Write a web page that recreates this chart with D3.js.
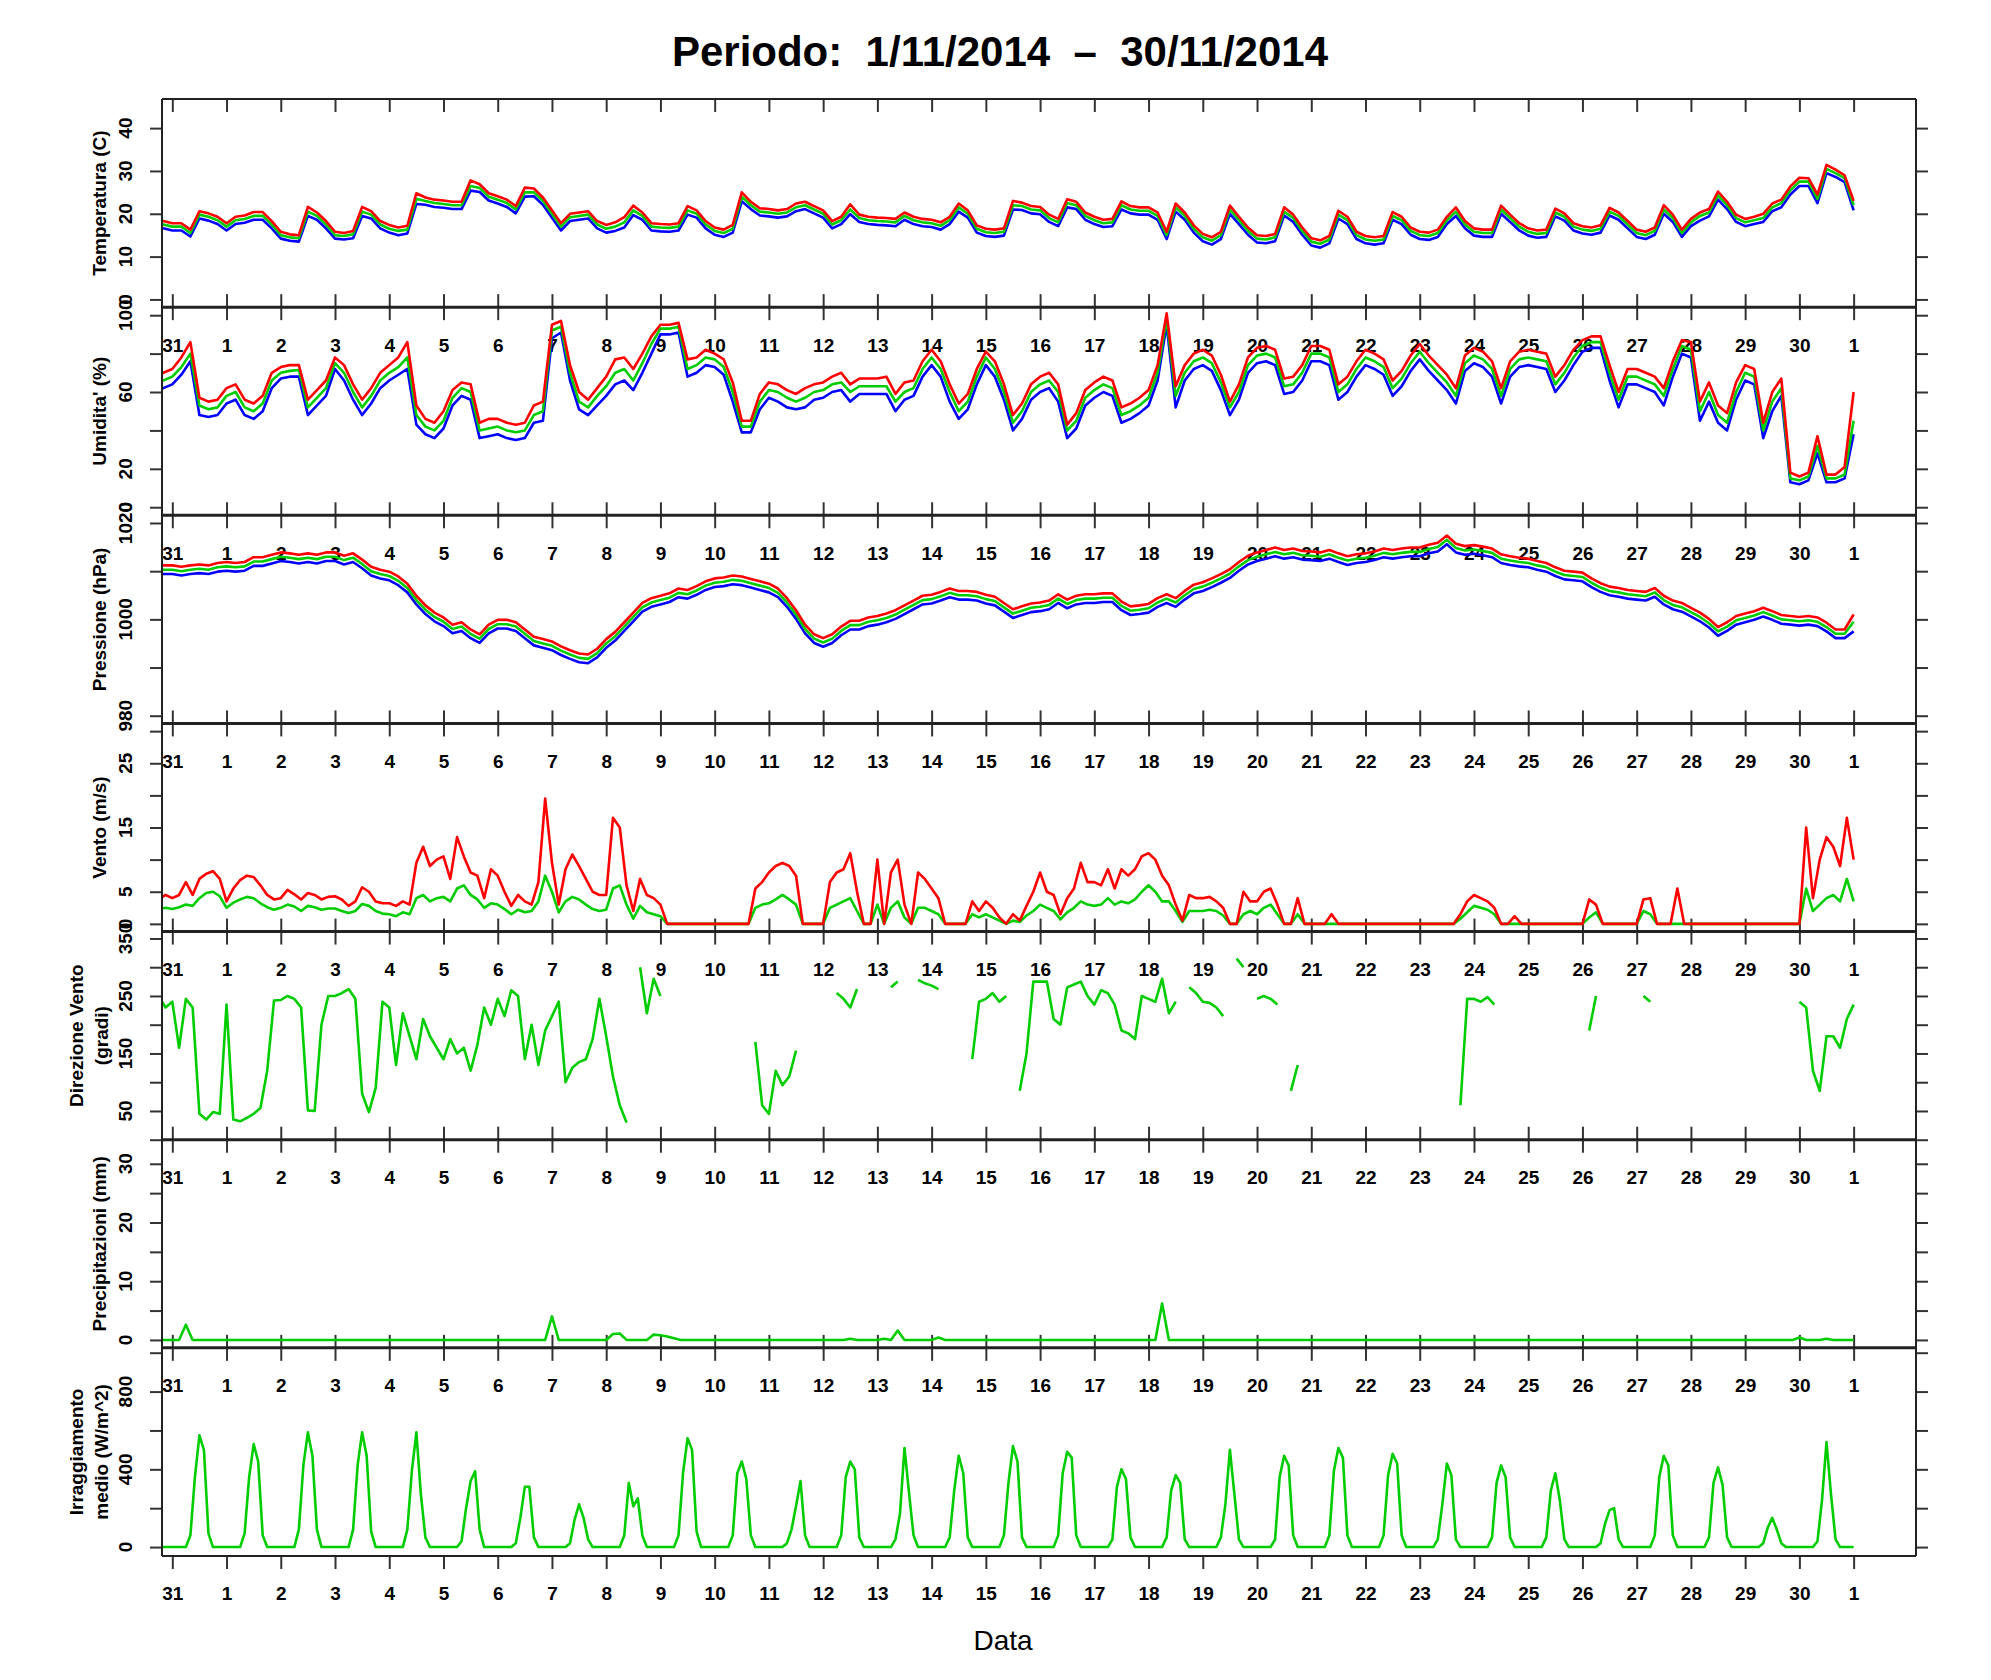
<!DOCTYPE html>
<html>
<head>
<meta charset="utf-8">
<script src="https://cdnjs.cloudflare.com/ajax/libs/d3/7.8.5/d3.min.js"></script>
<style>
  body { margin: 0; background: #fff; }
  text { font-family: "Liberation Sans", Arial, Helvetica, sans-serif; }
</style>
</head>
<body>
<svg id="chart" width="1991" height="1680"></svg>
<script>
(function() {

  // ---- data ----
  // temperature, humidity, pressure: every 4 h from 30/10 16:00 to 1/12 00:00
  var tempMax = [18.8,18.3,
    17.8,17.8,16.3,20.6,20.1,19.3, 17.8,19.3,19.6,20.4,20.4,18.3, 15.8,15.2,15,21.6,20.3,18.3,
    15.8,15.5,16,21.6,20.6,18.3, 17.4,16.8,17.2,24.8,23.8,23.3, 23.1,22.8,22.8,27.8,26.9,24.8,
    24.1,23.3,21.8,26.1,25.9,23.8, 20.8,17.8,20,20.3,20.6,18.3, 17.4,18,19.2,21.9,20.3,17.8,
    17.6,17.5,17.8,21.8,20.8,18.3, 16.8,16.3,17.4,25,22.8,21.3, 21.1,20.8,21.1,22.4,22.8,21.8,
    20.8,18.3,19.3,22.2,19.8,19.3, 19.1,19,18.8,20.3,19.3,18.8, 18.6,18,19.3,22.4,20.8,17.3,
    16.5,16.3,16.6,23,22.6,21.8, 21.6,19.8,18.8,23.4,22.8,20.3, 19.3,18.6,18.8,22.9,21.8,21.5,
    21.5,20.3,15.8,22.4,20.3,17.3, 15.3,14.5,15.8,21.9,19.3,16.8, 15,14.8,15.3,21.5,19.8,16.8,
    14.3,13.8,14.8,20.7,19.3,15.8, 14.8,14.5,14.8,20.4,19.3,16.8, 15.8,15.6,16.3,19.3,21.5,18.3,
    16.6,16.3,16.3,21.9,19.8,17.8, 16.6,16.1,16.3,21.2,20.1,17.8, 17.1,16.8,17.3,21.4,20.3,18.3,
    16.3,15.8,16.8,22,19.8,16.3, 18.8,20.3,21.1,25.2,22.8,19.8, 18.8,19.3,20,22.4,23.3,26.4,
    28.4,28.3,24.5,31.4,30.3,29,
    23];
  var tempAvg = [18,17.5,
    17,17,15.5,19.8,19.3,18.5, 17,18.5,18.8,19.5,19.5,17.5, 15,14.5,14.3,20.5,19.5,17.5,
    15,14.8,15.2,20.5,19.8,17.5, 16.5,16,16.3,23.5,23,22.5, 22.3,22,22,26.5,26,24,
    23.3,22.5,21,25,25,23, 20,17,19.2,19.5,19.8,17.5, 16.5,17,18,20.8,19.5,17,
    16.8,16.7,17,20.8,20,17.5, 16,15.5,16.5,24,22,20.5, 20.3,20,20.3,21.5,22,21,
    20,17.5,18.5,21,19,18.5, 18.3,18.2,18,19.5,18.5,18, 17.8,17.2,18.5,21.5,20,16.5,
    15.7,15.5,15.8,22,21.8,21, 20.8,19,18,22.5,22,19.5, 18.5,17.8,18,22,21,20.7,
    20.7,19.5,15,21.5,19.5,16.5, 14.5,13.7,15,21,18.5,16, 14.2,14,14.5,20.5,19,16,
    13.5,13,14,19.8,18.5,15, 14,13.7,14,19.5,18.5,16, 15,14.8,15.5,18.5,20.5,17.5,
    15.8,15.5,15.5,21,19,17, 15.8,15.3,15.5,20.3,19.3,17, 16.3,16,16.5,20.5,19.5,17.5,
    15.5,15,16,21,19,15.5, 18,19.5,20.3,24.3,22,19, 18,18.5,19,21.5,22.5,25.5,
    27.5,27.5,23.5,30.5,29.5,28.3,
    22];
  var tempMin = [17.1,16.6,
    16.1,16.1,14.7,18.9,18.4,17.6, 16.1,17.6,17.9,18.6,18.6,16.6, 14.2,13.7,13.5,19.5,18.6,16.6,
    14.2,14,14.3,19.5,18.9,16.6, 15.6,15,15.4,22.3,22.1,21.6, 21.4,21.1,21.1,25.4,25.1,23.1,
    22.4,21.6,20.1,24,24.1,22.1, 19.1,16.1,18.3,18.6,18.9,16.6, 15.6,16,16.8,19.7,18.6,16.1,
    15.9,15.8,16.1,19.8,19.1,16.6, 15.1,14.6,15.6,22.9,21.1,19.6, 19.4,19.1,19.4,20.6,21.1,20.1,
    19.1,16.6,17.6,19.9,18.1,17.6, 17.4,17.3,17.1,18.6,17.6,17.1, 16.9,16.3,17.6,20.5,19.1,15.6,
    14.8,14.6,14.9,21,20.9,20.1, 19.9,18.1,17.1,21.5,21.1,18.6, 17.6,16.9,17.1,21,20.1,19.8,
    19.8,18.6,14.1,20.5,18.6,15.6, 13.6,12.8,14.1,20,17.6,15.1, 13.3,13.1,13.6,19.6,18.1,15.1,
    12.6,12.1,13.1,18.9,17.6,14.1, 13.1,12.8,13.1,18.6,17.6,15.1, 14.1,13.9,14.6,17.6,19.5,16.6,
    14.9,14.6,14.6,20,18.1,16.1, 14.9,14.4,14.6,19.4,18.4,16.1, 15.4,15.1,15.6,19.6,18.6,16.6,
    14.6,14.1,15.1,20,18.1,14.6, 17.1,18.4,19.4,23.3,21.1,18.1, 17.1,17.6,18.1,20.6,21.5,24.5,
    26.5,26.5,22.5,29.5,28.6,27.4,
    20.8];

  var humMax = [66,70,
    72,78,86,57,55,56, 62,64,56,54,58,70, 73,74,74,56,61,66, 78,74,64,56,62,70,
    74,78,86,53,46,44, 50,61,65,64,44,46, 46,44,43,44,53,55, 95,97,74,60,56,62,
    68,77,78,72,80,89, 95,95,96,77,78,82, 80,77,65,45,45,59, 65,64,61,59,62,64,
    65,68,70,64,67,67, 67,68,59,65,66,76, 82,76,64,54,59,72, 81,76,64,48,54,64,
    68,70,64,43,49,61, 65,68,66,52,54,57, 61,74,101,63,74,80, 82,79,69,55,64,78,
    83,84,82,67,68,74, 84,84,82,64,68,76, 82,80,77,66,71,79, 85,79,74,69,62,79,
    83,81,76,62,76,81, 82,81,80,68,74,82, 87,89,89,74,60,72, 72,70,68,62,76,87,
    86,55,65,53,49,65, 74,72,44,60,67,18, 16,18,37,17,17,21,
    60];
  var humAvg = [63,66,
    68,73,80,53,51,52, 58,60,52,50,54,66, 70,71,71.5,52,57,62, 75,70,60,52,58,66,
    70,73,78,48,42,40, 45,57,62,60,40,41, 42,40,39,40,48,50, 92,94,70,55,52,58,
    63,70,72,66,75,85, 93,93,94,72,74,78, 77,73,60,42,42,55, 61,60,57,55,57,60,
    61,64,65,60,63,63, 63,63,55,60,62,72, 78,72,60,50,55,68, 78,72,60,44,50,60,
    64,66,60,40,45,57, 61,64,62,48,50,53, 57,70,98,58,70,76, 78,75,65,52,60,74,
    79,80,78,63,64,70, 80,80,78,60,64,72, 78,76,73,62,67,75, 81,75,70,65,58,75,
    79,77,72,58,72,77, 78,77,76,64,70,78, 84,86,86,70,56,68, 68,66,64,58,72,84,
    82,50,60,48,44,60, 70,68,40,55,62,15, 14,16,32,15,15,17,
    45];
  var humMin = [59,62,
    64,69,76,48,47,48, 54,56,48,46,50,62, 67,68,68,48,53,58, 72,66,56,48,54,62,
    66,69,72,43,38,36, 41,53,58,56,36,37, 38,36,35,36,44,45, 88,91,66,51,48,53,
    58,64,66,61,70,80, 90,90,91,68,70,74, 73,69,55,39,39,51, 57,55,52,51,52,56,
    57,60,61,55,59,59, 59,59,50,56,58,68, 74,68,55,46,51,64, 74,68,56,40,46,56,
    60,62,55,36,41,53, 57,60,58,44,46,49, 53,66,95,52,66,72, 74,71,61,48,56,70,
    75,76,74,59,60,66, 76,76,74,56,60,68, 74,72,69,58,63,71, 77,71,66,61,54,71,
    75,73,68,54,68,73, 74,73,72,60,66,74, 81,83,83,66,52,64, 64,62,60,53,68,80,
    78,45,55,44,40,56, 66,64,36,50,58,13, 12,14,28,13,13,15,
    38];

  var presMax = [1011.2,1011.2,
    1011.2,1010.9,1011.2,1011.4,1011.2,1011.7, 1011.9,1011.7,1011.9,1012.9,1012.9,1013.4,
    1013.9,1013.7,1013.4,1013.7,1013.4,1013.9, 1013.9,1013.2,1013.7,1012.4,1010.9,1010.3,
    1009.9,1008.9,1007.4,1004.9,1002.9,1001.4, 1000.4,998.9,999.4,997.9,996.9,998.9,
    999.9,999.9,999.4,997.9,996.4,995.9, 995.4,994.4,993.6,992.9,992.7,993.9,
    995.9,997.4,999.4,1001.4,1003.4,1004.4, 1004.9,1005.4,1006.4,1006.1,1006.9,1007.9,
    1008.5,1008.7,1009.1,1008.9,1008.4,1007.9, 1007.4,1006.4,1004.4,1001.9,998.9,996.9,
    996.1,996.9,998.5,999.7,999.7,1000.4, 1000.7,1001.2,1001.9,1002.9,1003.9,1004.9,
    1005.1,1005.7,1006.4,1005.9,1005.9,1005.7, 1005.1,1004.7,1003.4,1002.1,1002.7,1003.3,
    1003.5,1003.9,1005.2,1004.1,1004.9,1005.2, 1005.2,1005.4,1005.4,1003.7,1002.7,1002.9,
    1003.2,1004.4,1005.2,1004.4,1005.9,1007.2, 1007.7,1008.5,1009.4,1010.4,1011.9,1013.2,
    1013.9,1014.4,1014.9,1014.4,1014.7,1014.2, 1014.1,1013.9,1014.4,1013.7,1013.1,1013.5,
    1013.7,1014.1,1014.7,1014.4,1014.7,1014.9, 1014.9,1015.5,1015.9,1017.4,1015.7,1015.2,
    1015.4,1015.1,1014.7,1013.5,1013.1,1012.8, 1012.6,1012.1,1011.7,1010.8,1010.1,1009.9,
    1009.7,1008.5,1007.5,1006.8,1006.5,1006.1, 1005.9,1005.7,1006.5,1004.9,1003.9,1003.4,
    1002.4,1001.4,1000.1,998.4,999.4,1000.7, 1001.2,1001.7,1002.4,1001.7,1000.9,1000.7,
    1000.5,1000.7,1000.4,999.3,997.9,997.9,
    1001];
  var presAvg = [1010.3,1010.3,
    1010.3,1010,1010.3,1010.5,1010.3,1010.8, 1011,1010.8,1011,1012,1012,1012.5,
    1013,1012.8,1012.5,1012.8,1012.5,1013, 1013,1012.3,1012.8,1011.5,1010,1009.4,
    1009,1008,1006.5,1004,1002,1000.5, 999.5,998,998.5,997,996,998,
    999,999,998.5,997,995.5,995, 994.5,993.5,992.7,992,991.8,993,
    995,996.5,998.5,1000.5,1002.5,1003.5, 1004,1004.5,1005.5,1005.2,1006,1007,
    1007.6,1007.8,1008.2,1008,1007.5,1007, 1006.5,1005.5,1003.5,1001,998,996,
    995.2,996,997.6,998.8,998.8,999.5, 999.8,1000.3,1001,1002,1003,1004,
    1004.2,1004.8,1005.5,1005,1005,1004.8, 1004.2,1003.8,1002.5,1001.2,1001.8,1002.4,
    1002.6,1003,1004.3,1003.2,1004,1004.3, 1004.3,1004.5,1004.5,1002.8,1001.8,1002,
    1002.3,1003.5,1004.3,1003.5,1005,1006.3, 1006.8,1007.6,1008.5,1009.5,1011,1012.3,
    1013,1013.5,1014,1013.5,1013.8,1013.3, 1013.2,1013,1013.5,1012.8,1012.2,1012.6,
    1012.8,1013.2,1013.8,1013.5,1013.8,1014, 1014,1014.6,1015,1016.5,1014.8,1014.3,
    1014.5,1014.2,1013.8,1012.6,1012.2,1011.9, 1011.7,1011.2,1010.8,1009.9,1009.2,1009,
    1008.8,1007.6,1006.6,1005.9,1005.6,1005.2, 1005,1004.8,1005.6,1004,1003,1002.5,
    1001.5,1000.5,999.2,997.5,998.5,999.8, 1000.3,1000.8,1001.5,1000.8,1000,999.8,
    999.6,999.8,999.5,998.4,997,997,
    999.5];
  var presMin = [1009.4,1009.4,
    1009.4,1009.1,1009.4,1009.6,1009.4,1009.9, 1010.1,1009.9,1010.1,1011.1,1011.1,1011.6,
    1012.1,1011.9,1011.6,1011.9,1011.6,1012.1, 1012.1,1011.4,1011.9,1010.6,1009.1,1008.5,
    1008.1,1007.1,1005.6,1003.1,1001.1,999.6, 998.6,997.1,997.6,996.1,995.1,997.1,
    998.1,998.1,997.6,996.1,994.6,994.1, 993.6,992.6,991.8,991.1,990.9,992.1,
    994.1,995.6,997.6,999.6,1001.6,1002.6, 1003.1,1003.6,1004.6,1004.3,1005.1,1006.1,
    1006.7,1006.9,1007.3,1007.1,1006.6,1006.1, 1005.6,1004.6,1002.6,1000.1,997.1,995.1,
    994.3,995.1,996.7,997.9,997.9,998.6, 998.9,999.4,1000.1,1001.1,1002.1,1003.1,
    1003.3,1003.9,1004.6,1004.1,1004.1,1003.9, 1003.3,1002.9,1001.6,1000.3,1000.9,1001.5,
    1001.7,1002.1,1003.4,1002.3,1003.1,1003.4, 1003.4,1003.6,1003.6,1001.9,1000.9,1001.1,
    1001.4,1002.6,1003.4,1002.6,1004.1,1005.4, 1005.9,1006.7,1007.6,1008.6,1010.1,1011.4,
    1012.1,1012.6,1013.1,1012.6,1012.9,1012.4, 1012.3,1012.1,1012.6,1011.9,1011.3,1011.7,
    1011.9,1012.3,1012.9,1012.6,1012.9,1013.1, 1013.1,1013.7,1014.1,1015.6,1013.9,1013.4,
    1013.6,1013.3,1012.9,1011.7,1011.3,1011, 1010.8,1010.3,1009.9,1009,1008.3,1008.1,
    1007.9,1006.7,1005.7,1005,1004.7,1004.3, 1004.1,1003.9,1004.7,1003.1,1002.1,1001.6,
    1000.6,999.6,998.3,996.6,997.6,998.9, 999.4,999.9,1000.6,999.9,999.1,998.9,
    998.7,998.9,998.6,997.5,996.1,996.1,
    997.5];

  // wind, direction, rain: every 3 h from 30/10 18:00 to 1/12 00:00
  var windMax = [3.8,4.5,
    4,4.5,6.5,4.5,7,7.8,8.2,7, 3.5,5.5,6.8,7.5,7.3,6,4.5,3.8, 4,5.3,4.6,3.8,4.8,4.5,3.8,4.2,
    4.3,3.8,2.8,3.5,5.7,5,3.5,3.2, 3.2,2.8,3.5,3,9.5,12,9,10, 10.5,7,13.5,10.5,8,7.5,4,8.5,
    7.5,5,2.8,4.5,3.5,3,6.5,19.5, 9.5,3,8.5,10.8,9,7,5,4.5, 4.5,16.5,15,6,2,7,4.5,4,
    3,0,0,0,0,0,0,0, 0,0,0,0,0,0,5.5,6.5, 8,9,9.5,9,7.5,0,0,0,
    0,6.5,8,8.5,11,5,0,0, 10,0,8,10,3,0,8,7, 5.5,4,0,0,0,0,3.5,2,
    3.5,2.5,1,0,1.5,0.5,2.8,5, 8,5,4.5,1.5,4,5.5,9.5,6.5, 6.5,6,8.5,5.5,8.5,7.5,8.5,10.5,
    11,10,7.5,6,3,0.5,4.5,4, 4,4.2,3.5,2.5,0,0,5,3.5, 3.5,5,5.5,3,0,0,4,0,
    0,0,0,1.5,0,0,0,0, 0,0,0,0,0,0,0,0, 0,0,0,0,0,0,1.5,3.5,
    4.5,4,3.5,2.5,0,0,1.2,0, 0,0,0,0,0,0,0,0, 0,3.8,3,0,0,0,0,0,
    0,3.8,4,0,0,0,5.5,0, 0,0,0,0,0,0,0,0, 0,0,0,0,0,0,0,0,
    0,15,4,10,13.5,12,9,16.5,
    10];
  var windAvg = [2.3,2.5,
    2.3,2.6,3,2.8,4,4.8,5,4.3, 2.5,3.3,3.8,4.2,4,3.2,2.6,2.2, 2.5,3,2.7,2,2.8,2.6,2.2,2.4,
    2.4,2,1.7,2,3.1,2.8,2,1.6, 1.5,1.2,1.8,1.5,4,4.5,3.5,4, 4.2,3.5,5.5,6,4.5,3.8,2.5,3.2,
    3,2.3,1.5,2.2,1.8,2,3.5,7.5, 5,1.8,3.5,4.2,3.8,3,2.3,2, 2.2,5.5,6,3,0.8,2.8,1.8,1.5,
    1.2,0,0,0,0,0,0,0, 0,0,0,0,0,0,2.5,3, 3.2,3.8,4.5,3.8,3,0,0,0,
    0,2.5,3,3.5,4,2,0,0, 3,0,2.5,3.5,1,0,2.5,2.5, 2,1.5,0,0,0,0,1.5,1,
    1.5,1,0.5,0,0.5,0.3,1.3,2, 3,2.5,2,0.7,1.8,2.5,3.5,3, 2.8,3,4,3,3.5,3.2,3.8,5,
    6,5,3.5,3.5,2,0.3,2,2, 2,2.2,2,1.3,0,0,1.5,2, 1.5,2.5,3,1.5,0,0,1.5,0,
    0,0,0,0,0,0,0,0, 0,0,0,0,0,0,0,0, 0,0,0,0,0,0,0.8,1.8,
    2.8,2.5,2.2,1.5,0,0,0,0, 0,0,0,0,0,0,0,0, 0,1,1.8,0,0,0,0,0,
    0,2,1.5,0,0,0,0,0, 0,0,0,0,0,0,0,0, 0,0,0,0,0,0,0,0,
    0,5.5,2,3,4,4.5,3.5,7,
    3.5];
  var windDir = [250,230,
    240,160,245,230,45,35,48,45, 235,35,32,38,45,55,120,242, 243,250,245,230,51,50,200,250,
    250,255,262,245,80,48,90,240, 230,130,220,180,140,210,180,160, 140,175,150,160,120,165,230,200,
    245,215,260,250,140,200,130,190, 215,240,100,125,135,140,175,245, 180,110,60,30,null,300,220,280,
    250,null,null,null,null,null,null,null, null,null,null,null,null,null,170,60,
    45,120,95,110,155,null,null,null, null,null,255,245,230,262,null,null,
    null,null,265,275,null,null,278,272, 268,262,null,null,null,null,140,240,
    245,255,240,250,null,85,150,275, 275,275,210,200,265,270,275,250,
    235,260,255,235,190,185,175,250, 245,240,280,220,240,null,265,255,
    240,238,230,215,null,315,300,null, 245,250,245,235,null,85,130,null,
    null,null,null,null,null,null,null,null, null,null,null,null,null,null,null,null,
    null,null,null,null,null,null,60,245, 245,240,248,235,null,null,null,null,
    null,null,null,null,null,null,null,null, null,190,250,null,null,null,null,null,
    null,250,240,null,null,null,null,null, null,null,null,null,null,null,null,null,
    null,null,null,null,null,null,null,null,
    240,230,120,85,180,180,160,210,
    235];
  var rain = [0,0,
    0,0,2.6,0,0,0,0,0, 0,0,0,0,0,0,0,0, 0,0,0,0,0,0,0,0, 0,0,0,0,0,0,0,0,
    0,0,0,0,0,0,0,0, 0,0,0,0,0,0,0,0, 0,0,0,0,0,0,0,0, 4,0,0,0,0,0,0,0,
    0,1,1.1,0,0,0,0,0.9, 0.8,0.6,0.3,0,0,0,0,0, 0,0,0,0,0,0,0,0, 0,0,0,0,0,0,0,0,
    0,0,0,0,0.2,0,0,0, 0,0.2,0,1.6,0,0,0,0, 0,0.4,0,0,0,0,0,0, 0,0,0,0,0,0,0,0,
    0,0,0,0,0,0,0,0, 0,0,0,0,0,0,0,0, 0,0,6.2,0,0,0,0,0, 0,0,0,0,0,0,0,0,
    0,0,0,0,0,0,0,0, 0,0,0,0,0,0,0,0, 0,0,0,0,0,0,0,0, 0,0,0,0,0,0,0,0,
    0,0,0,0,0,0,0,0, 0,0,0,0,0,0,0,0, 0,0,0,0,0,0,0,0, 0,0,0,0,0,0,0,0,
    0,0,0,0,0,0,0,0, 0,0,0,0,0,0,0,0,
    0.4,0,0,0,0.2,0,0,0,
    0];

  // mean irradiance: every 2 h from 30/10 18:00 to 1/12 00:00
  var irr = [0,0,0,
    0,0,0,0,60,360,575,500,70,0,0,0, 0,0,0,0,70,360,530,440,60,0,0,0,
    0,0,0,0,90,420,590,470,90,0,0,0, 0,0,0,0,90,420,590,470,80,0,0,0,
    0,0,0,0,90,390,590,270,50,0,0,0, 0,0,0,0,30,200,340,390,90,0,0,0,
    0,0,0,0,20,150,310,310,50,0,0,0, 0,0,0,0,20,140,220,150,40,0,0,0,
    0,0,0,0,60,330,210,250,60,0,0,0, 0,0,0,0,60,380,560,500,80,0,0,0,
    0,0,0,0,60,380,440,350,60,0,0,0, 0,0,0,0,20,90,210,340,60,0,0,0,
    0,0,0,0,60,360,440,400,50,0,0,0, 0,0,0,0,40,170,510,280,60,0,0,0,
    0,0,0,0,50,290,470,380,50,0,0,0, 0,0,0,0,60,330,520,440,50,0,0,0,
    0,0,0,0,60,380,490,460,60,0,0,0, 0,0,0,0,40,310,400,350,50,0,0,0,
    0,0,0,0,50,290,370,330,40,0,0,0, 0,0,0,0,50,220,500,270,40,0,0,0,
    0,0,0,0,40,360,470,420,60,0,0,0, 0,0,0,0,60,390,510,460,60,0,0,0,
    0,0,0,0,60,370,480,430,60,0,0,0, 0,0,0,0,40,220,430,370,40,0,0,0,
    0,0,0,0,50,330,420,360,50,0,0,0, 0,0,0,0,50,290,380,240,40,0,0,0,
    0,0,0,0,20,120,190,200,40,0,0,0, 0,0,0,0,60,360,470,420,60,0,0,0,
    0,0,0,0,50,330,410,320,50,0,0,0, 0,0,0,0,20,100,150,90,20,0,0,0,
    0,0,0,0,30,240,540,270,40,0,0,0,
    0];

  // y ticks and which of them carry a label
  var tempTicks = [0,10,20,30,40],            tempLabels = [0,10,20,30,40];
  var humTicks  = [0,20,40,60,80,100],        humLabels  = [0,20,60,100];
  var presTicks = [980,990,1000,1010,1020],   presLabels = [980,1000,1020];
  var windTicks = [0,5,10,15,20,25,30],       windLabels = [0,5,15,25];
  var dirTicks  = [0,50,100,150,200,250,300,350], dirLabels = [50,150,250,350];
  var rainTicks = [0,5,10,15,20,25,30],       rainLabels = [0,10,20,30];
  var irrTicks  = [0,200,400,600,800,1000],   irrLabels  = [0,400,800];

  // ---- layout ----
  var W = 1991, H = 1680;
  var left = 162, right = 1916, top0 = 99, bottom0 = 1556;
  var ph = (bottom0 - top0) / 7;
  var colors = {red: '#ff0000', green: '#00cd00', blue: '#0000ff'};
  var hour = 3600000;

  // sampling times of each series
  var grid = function(startHour, stepHours, n) {
    var t0 = Date.UTC(2014, 9, 30, startHour);
    return d3.range(n).map(function(i) { return new Date(t0 + i * stepHours * hour); });
  };

  var day0 = Date.UTC(2014, 9, 31);
  var x = d3.scaleUtc()
    .domain([new Date(day0 - 0.19 * 24 * hour), new Date(day0 + 32.15 * 24 * hour)])
    .range([left, right]);
  var days = d3.utcDay.range(new Date(day0), new Date(Date.UTC(2014, 11, 2)));

  var panels = [
    {title: ['Temperatura (C)'], domain: [-1.8, 46.8], ticks: tempTicks, labels: tempLabels, step: [16, 4],
     series: [[tempMin, 'blue'], [tempAvg, 'green'], [tempMax, 'red']]},
    {title: ["Umidita' (%)"], domain: [-4.2, 104.2], ticks: humTicks, labels: humLabels, step: [16, 4],
     series: [[humMin, 'blue'], [humAvg, 'green'], [humMax, 'red']]},
    {title: ['Pressione (hPa)'], domain: [978.4, 1021.6], ticks: presTicks, labels: presLabels, step: [16, 4],
     series: [[presMin, 'blue'], [presAvg, 'green'], [presMax, 'red']]},
    {title: ['Vento (m/s)'], domain: [-1.2, 31.2], ticks: windTicks, labels: windLabels, step: [18, 3],
     series: [[windAvg, 'green'], [windMax, 'red']]},
    {title: ['Direzione Vento', '(gradi)'], domain: [0, 362], ticks: dirTicks, labels: dirLabels, step: [18, 3],
     series: [[windDir, 'green']]},
    {title: ['Precipitazioni (mm)'], domain: [-1.35, 34.1], ticks: rainTicks, labels: rainLabels, step: [18, 3],
     series: [[rain, 'green']]},
    {title: ['Irraggiamento', 'medio (W/m^2)'], domain: [-46, 1025], ticks: irrTicks, labels: irrLabels, step: [18, 2],
     series: [[irr, 'green']]}
  ];

  var svg = d3.select('#chart');
  svg.append('rect').attr('width', W).attr('height', H).attr('fill', '#fff');

  var styleAxis = function(g) {
    g.attr('font-family', '"Liberation Sans", Arial, sans-serif')
      .attr('font-size', 19)
      .attr('font-weight', 'bold')
      .attr('color', '#333');
    g.select('.domain').remove();
    g.selectAll('.tick line').attr('stroke-width', 2);
    g.selectAll('.tick text').attr('fill', '#000');
  };

  // title
  svg.append('text')
    .attr('x', 1000).attr('y', 66)
    .attr('text-anchor', 'middle')
    .attr('font-size', 42).attr('font-weight', 'bold')
    .style('white-space', 'pre')
    .text('Periodo:  1/11/2014  \u2013  30/11/2014');

  // x axes at every panel edge (labels fall inside the panel below)
  var bounds = d3.range(8).map(function(i) { return top0 + i * ph; });
  bounds.forEach(function(yb, i) {
    if (i > 0 && i < 7) {
      svg.append('g').attr('transform', 'translate(0,' + yb + ')')
        .call(d3.axisTop(x).tickValues(days).tickSize(13).tickFormat(''))
        .call(styleAxis);
    }
    var ax = d3.axisBottom(x).tickValues(days).tickSize(13).tickPadding(18);
    if (i === 0) ax.tickFormat('');
    else ax.tickFormat(d3.utcFormat('%-d'));
    svg.append('g').attr('transform', 'translate(0,' + yb + ')')
      .call(ax)
      .call(styleAxis);
  });

  panels.forEach(function(p, i) {
    var y0 = top0 + i * ph, y1 = y0 + ph;
    var y = d3.scaleLinear().domain(p.domain).range([y1, y0]);

    // y ticks both sides
    svg.append('g').attr('transform', 'translate(' + left + ',0)')
      .call(d3.axisLeft(y).tickValues(p.ticks).tickSize(12).tickFormat(''))
      .call(styleAxis);
    svg.append('g').attr('transform', 'translate(' + right + ',0)')
      .call(d3.axisRight(y).tickValues(p.ticks).tickSize(12).tickFormat(''))
      .call(styleAxis);

    // rotated tick labels
    svg.append('g').selectAll('text')
      .data(p.labels)
      .enter().append('text')
      .attr('transform', function(d) { return 'translate(132,' + y(d) + ') rotate(-90)'; })
      .attr('text-anchor', 'middle')
      .attr('font-size', 19).attr('font-weight', 'bold')
      .text(function(d) { return d; });

    // axis title
    var ym = (y0 + y1) / 2;
    var xs = p.title.length === 1 ? [106] : [83, 108];
    p.title.forEach(function(t, k) {
      svg.append('text')
        .attr('transform', 'translate(' + xs[k] + ',' + ym + ') rotate(-90)')
        .attr('text-anchor', 'middle')
        .attr('font-size', 19).attr('font-weight', 'bold')
        .text(t);
    });

    svg.append('clipPath').attr('id', 'clip' + i)
      .append('rect')
      .attr('x', left).attr('y', y0)
      .attr('width', right - left).attr('height', ph);

    var lg = svg.append('g').attr('clip-path', 'url(#clip' + i + ')');
    p.series.forEach(function(s) {
      var times = grid(p.step[0], p.step[1], s[0].length);
      var pts = s[0].map(function(v, k) { return {t: times[k], v: v}; });
      var line = d3.line()
        .defined(function(d) { return d.v !== null; })
        .x(function(d) { return x(d.t); })
        .y(function(d) { return y(d.v); });
      lg.append('path')
        .datum(pts)
        .attr('d', line)
        .attr('fill', 'none')
        .attr('stroke', colors[s[1]])
        .attr('stroke-width', 2.6)
        .attr('stroke-linejoin', 'round');
    });
  });

  // frame
  var frame = svg.append('g').attr('stroke', '#222').attr('fill', 'none');
  frame.append('line').attr('x1', left).attr('x2', left).attr('y1', top0).attr('y2', bottom0).attr('stroke-width', 2);
  frame.append('line').attr('x1', right).attr('x2', right).attr('y1', top0).attr('y2', bottom0).attr('stroke-width', 2);
  bounds.forEach(function(yb, i) {
    frame.append('line')
      .attr('x1', left).attr('x2', right)
      .attr('y1', yb).attr('y2', yb)
      .attr('stroke-width', (i === 0 || i === 7) ? 2 : 3);
  });

  // x label
  svg.append('text')
    .attr('x', 1003).attr('y', 1650)
    .attr('text-anchor', 'middle')
    .attr('font-size', 28)
    .text('Data');

})();
</script>
</body>
</html>
